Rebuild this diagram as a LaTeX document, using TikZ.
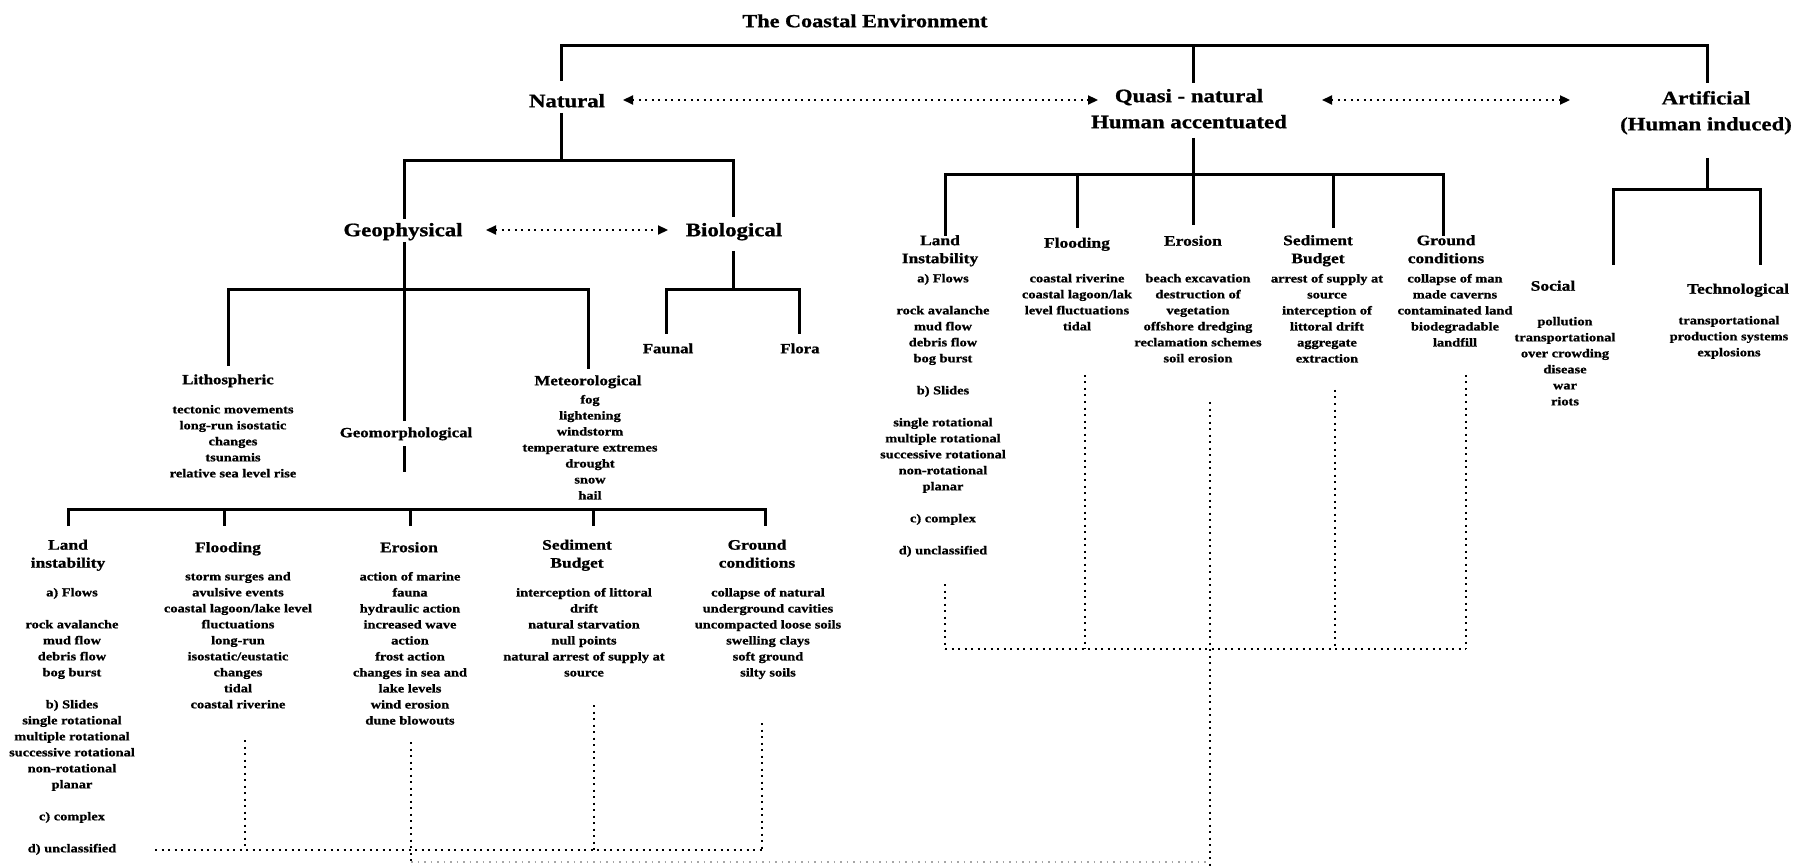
\documentclass[tikz,border=0pt]{standalone}
\usepackage{fontspec}
\setmainfont{Liberation Serif}[FakeStretch=1.2, BoldFeatures={FakeBold=1}]
\usetikzlibrary{arrows.meta}
\tikzset{
  tree/.style={line width=3pt},
  dots/.style={line width=2.2pt, dash pattern=on 2pt off 4.5pt},
  faint/.style={line width=1.2pt, black!35, dash pattern=on 1.5pt off 5pt},
  dotarr/.style={dots, {Triangle[length=10pt,width=9pt]}-{Triangle[length=10pt,width=9pt]}},
  txt/.style={anchor=north, inner sep=0pt, align=center, execute at begin node=\strut},
  ttl/.style={txt, font=\fontsize{18.5}{22}\selectfont\bfseries, yshift=15.4pt},
  big/.style={txt, font=\fontsize{19}{26}\selectfont\bfseries, yshift=18.2pt},
  mid/.style={txt, font=\fontsize{14}{17}\selectfont\bfseries, yshift=11.9pt},
  hd/.style={txt, font=\fontsize{14.5}{18}\selectfont\bfseries, yshift=12.6pt},
  sm/.style={txt, font=\fontsize{12}{16}\selectfont\bfseries, yshift=11.2pt},
}
\begin{document}
\begin{tikzpicture}[x=1pt,y=-1pt]
\fill[white] (0,0) rectangle (1807,866);
\useasboundingbox (0,0) rectangle (1807,866);

% ---- top level
\node[ttl] (title) at (865,27) {The Coastal Environment};
\node[big] (nat) at (567,107) {Natural};
\node[big] (qua) at (1189,107) {Quasi - natural\\Human accentuated};
\node[big] (art) at (1706,109) {Artificial\\(Human induced)};
\coordinate (tbL) at (561,46);
\coordinate (tbR) at (1707,46);
\draw[tree] (561,81) -- (tbL) -- (tbR) -- (1707,83);
\draw[tree] (1193,46) -- (1193,83);
\coordinate (a1s) at (623,100); \coordinate (a1e) at (1098,100);
\coordinate (a2s) at (1322,100); \coordinate (a2e) at (1570,100);
\draw[dotarr] (a1s) -- (a1e);
\draw[dotarr] (a2s) -- (a2e);

% ---- natural branch
\draw[tree] (561,113) -- (561,161);
\draw[tree] (404,219) |- (733,161) -- (733,217);
\node[big] (geo) at (403,236) {Geophysical};
\node[big] (bio) at (734,236) {Biological};
\coordinate (a3s) at (486,230); \coordinate (a3e) at (668,230);
\draw[dotarr] (a3s) -- (a3e);

\draw[tree] (404,242) -- (404,421);
\draw[tree] (228,366) |- (588,290) -- (588,369);
\node[mid] (lit) at (228,384) {Lithospheric};
\node[sm] (litL) at (233,416) {tectonic movements\\long-run isostatic\\changes\\tsunamis\\relative sea level rise};
\node[mid] (gmo) at (406,437) {Geomorphological};
\draw[tree] (404,446) -- (404,472);
\node[mid] (met) at (588,385) {Meteorological};
\node[sm] (metL) at (590,406) {fog\\lightening\\windstorm\\temperature extremes\\drought\\snow\\hail};

\draw[tree] (733,251) -- (733,290);
\draw[tree] (666,334) |- (799,290) -- (799,334);
\node[mid] (fau) at (668,353) {Faunal};
\node[mid] (flo) at (800,353) {Flora};

% lower bar
\draw[tree] (68,526) |- (765,509) -- (765,526);
\draw[tree] (224,509) -- (224,526);
\draw[tree] (410,509) -- (410,526);
\draw[tree] (593,509) -- (593,526);

\node[hd] (lland) at (68,552) {Land\\instability};
\node[hd] (lflo) at (228,552) {Flooding};
\node[hd] (lero) at (409,552) {Erosion};
\node[hd] (lsed) at (577,552) {Sediment\\Budget};
\node[hd] (lgro) at (757,552) {Ground\\conditions};

\node[sm] (llandL) at (72,599) {a) Flows\\~\\rock avalanche\\mud flow\\debris flow\\bog burst\\~\\b) Slides\\single rotational\\multiple rotational\\successive rotational\\non-rotational\\planar\\~\\c) complex\\~\\d) unclassified};
\node[sm] (lfloL) at (238,583) {storm surges and\\avulsive events\\coastal lagoon/lake level\\fluctuations\\long-run\\isostatic/eustatic\\changes\\tidal\\coastal riverine};
\node[sm] (leroL) at (410,583) {action of marine\\fauna\\hydraulic action\\increased wave\\action\\frost action\\changes in sea and\\lake levels\\wind erosion\\dune blowouts};
\node[sm] (lsedL) at (584,599) {interception of littoral\\drift\\natural starvation\\null points\\natural arrest of supply at\\source};
\node[sm] (lgroL) at (768,599) {collapse of natural\\underground cavities\\uncompacted loose soils\\swelling clays\\soft ground\\silty soils};

\draw[dots] (155,850) -- (762,850);
\draw[dots] (245,740) -- (245,850);
\draw[dots] (411,742) -- (411,866);
\draw[dots] (594,705) -- (594,850);
\draw[dots] (762,723) -- (762,850);
\draw[faint] (411,862) -- (1210,862);

% ---- quasi-natural branch
\draw[tree] (1193,138) -- (1193,225);
\draw[tree] (945,236) |- (1443,175) -- (1443,236);
\draw[tree] (1077,175) -- (1077,228);
\draw[tree] (1333,175) -- (1333,228);

\node[hd] (qland) at (940,247.5) {Land\\Instability};
\node[hd] (qflo) at (1077,247.5) {Flooding};
\node[hd] (qero) at (1193,245.5) {Erosion};
\node[hd] (qsed) at (1318,247.5) {Sediment\\Budget};
\node[hd] (qgro) at (1446,247.5) {Ground\\conditions};

\node[sm] (qlandL) at (943,285) {a) Flows\\~\\rock avalanche\\mud flow\\debris flow\\bog burst\\~\\b) Slides\\~\\single rotational\\multiple rotational\\successive rotational\\non-rotational\\planar\\~\\c) complex\\~\\d) unclassified};
\node[sm] (qfloL) at (1077,285) {coastal riverine\\coastal lagoon/lak\\level fluctuations\\tidal};
\node[sm] (qeroL) at (1198,285) {beach excavation\\destruction of\\vegetation\\offshore dredging\\reclamation schemes\\soil erosion};
\node[sm] (qsedL) at (1327,285) {arrest of supply at\\source\\interception of\\littoral drift\\aggregate\\extraction};
\node[sm] (qgroL) at (1455,285) {collapse of man\\made caverns\\contaminated land\\biodegradable\\landfill};

\draw[dots] (945,649) -- (1466,649);
\draw[dots] (945,584) -- (945,649);
\draw[dots] (1085,375) -- (1085,649);
\draw[dots] (1210,402) -- (1210,866);
\draw[dots] (1335,390) -- (1335,649);
\draw[dots] (1466,375) -- (1466,649);

% ---- artificial branch
\draw[tree] (1707,158) -- (1707,190);
\draw[tree] (1613,265) |- (1760,190) -- (1760,265);
\node[hd] (soc) at (1553,290.5) {Social};
\node[hd] (tec) at (1738,293.5) {Technological};
\node[sm] (socL) at (1565,328) {pollution\\transportational\\over crowding\\disease\\war\\riots};
\node[sm] (tecL) at (1729,327) {transportational\\production systems\\explosions};
\end{tikzpicture}
\end{document}
